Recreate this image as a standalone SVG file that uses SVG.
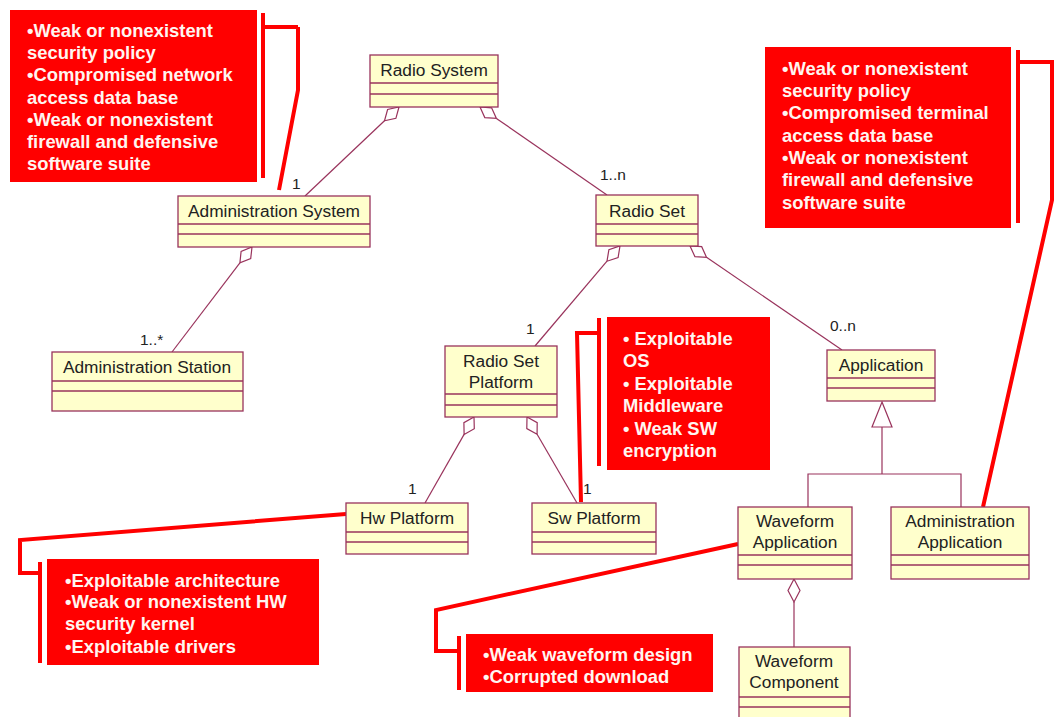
<svg xmlns="http://www.w3.org/2000/svg" width="1060" height="717" viewBox="0 0 1060 717">
<style>
.cls{fill:#ffffcc;stroke:#99335c;stroke-width:1.3}
.div{stroke:#99335c;stroke-width:1.3}
.t{font-family:"Liberation Sans",Arial,sans-serif;font-size:17.3px;fill:#222;text-anchor:middle}
.lbl{font-family:"Liberation Sans",Arial,sans-serif;font-size:15.5px;fill:#222}
.con{fill:none;stroke:#99335c;stroke-width:1.2}
.dia{fill:#fff;stroke:#99335c;stroke-width:1.2}
.note{fill:#ff0000}
.nt{font-family:"Liberation Sans",Arial,sans-serif;font-size:18.4px;font-weight:bold;fill:#fff5f0}
.rl{fill:none;stroke:#ff0000;stroke-width:4}
</style>
<rect width="1060" height="717" fill="#fff"/>

<g id="connectors">
  <line class="con" x1="384.5" y1="120.8" x2="305" y2="196"/>
  <polygon class="dia" points="399,107 395.9,118.3 384.5,120.8 387.6,109.5"/>
  <line class="con" x1="496.4" y1="118.4" x2="607" y2="195"/>
  <polygon class="dia" points="480,107 484.8,117.6 496.4,118.4 491.6,107.8"/>
  <line class="con" x1="239.9" y1="262.9" x2="172" y2="352"/>
  <polygon class="dia" points="252,247 250.7,258.6 239.9,262.9 241.1,251.4"/>
  <line class="con" x1="607" y1="261.2" x2="535" y2="346"/>
  <polygon class="dia" points="620,246 618.1,257.5 607,261.2 608.9,249.7"/>
  <line class="con" x1="706.5" y1="257.3" x2="842" y2="350"/>
  <polygon class="dia" points="690,246 694.9,256.6 706.5,257.3 701.7,246.7"/>
  <line class="con" x1="464.1" y1="434.4" x2="425" y2="503"/>
  <polygon class="dia" points="474,417 474.3,428.7 464.1,434.4 463.9,422.7"/>
  <line class="con" x1="537.1" y1="434.3" x2="577" y2="503"/>
  <polygon class="dia" points="527,417 526.8,428.6 537.1,434.3 537.2,422.6"/>
  <line class="con" x1="794" y1="602" x2="794" y2="647"/>
  <polygon class="dia" points="794,579 800,590.5 794,602 788,590.5"/>
  <polyline class="con" points="882,427 882,474"/>
  <polyline class="con" points="808,507 808,474 961,474 961,507"/>
  <polygon class="dia" points="882,402 892,427 872,427"/>
  <text class="lbl" x="292" y="189">1</text>
  <text class="lbl" x="600" y="180">1..n</text>
  <text class="lbl" x="140" y="345">1..*</text>
  <text class="lbl" x="526" y="334">1</text>
  <text class="lbl" x="830" y="331">0..n</text>
  <text class="lbl" x="408" y="494">1</text>
  <text class="lbl" x="583" y="494">1</text>
  <polyline class="rl" points="298,27 298,90 279,190"/>
  <line class="rl" x1="265" y1="27" x2="298" y2="27"/>
  <polyline class="rl" points="1020,62 1052,62 1052,200 983,507"/>
  <polyline class="rl" points="597,333 577,333 581,502"/>
  <polyline class="rl" points="346,514 20,540 20,573 38,573"/>
  <polyline class="rl" points="738,544 436,610 436,651 457,651"/>
</g>

<g id="radio-system">
  <rect class="cls" x="370" y="55" width="128" height="52"/>
  <line class="div" x1="370" y1="83" x2="498" y2="83"/>
  <line class="div" x1="370" y1="94" x2="498" y2="94"/>
  <text class="t" x="434" y="76">Radio System</text>
</g>
<g id="administration-system">
  <rect class="cls" x="178" y="196" width="192" height="51"/>
  <line class="div" x1="178" y1="224" x2="370" y2="224"/>
  <line class="div" x1="178" y1="234" x2="370" y2="234"/>
  <text class="t" x="274" y="217">Administration System</text>
</g>
<g id="radio-set">
  <rect class="cls" x="596" y="195" width="102" height="51"/>
  <line class="div" x1="596" y1="224" x2="698" y2="224"/>
  <line class="div" x1="596" y1="234" x2="698" y2="234"/>
  <text class="t" x="647" y="217">Radio Set</text>
</g>
<g id="administration-station">
  <rect class="cls" x="52" y="352" width="191" height="59"/>
  <line class="div" x1="52" y1="381" x2="243" y2="381"/>
  <line class="div" x1="52" y1="391" x2="243" y2="391"/>
  <text class="t" x="147" y="373">Administration Station</text>
</g>
<g id="radio-set-platform">
  <rect class="cls" x="445" y="346" width="112" height="71"/>
  <line class="div" x1="445" y1="394" x2="557" y2="394"/>
  <line class="div" x1="445" y1="405" x2="557" y2="405"/>
  <text class="t" x="501" y="367">Radio Set</text>
  <text class="t" x="501" y="388">Platform</text>
</g>
<g id="application">
  <rect class="cls" x="827" y="350" width="108" height="51"/>
  <line class="div" x1="827" y1="378" x2="935" y2="378"/>
  <line class="div" x1="827" y1="388" x2="935" y2="388"/>
  <text class="t" x="881" y="371">Application</text>
</g>
<g id="hw-platform">
  <rect class="cls" x="346" y="503" width="122" height="51"/>
  <line class="div" x1="346" y1="532" x2="468" y2="532"/>
  <line class="div" x1="346" y1="542" x2="468" y2="542"/>
  <text class="t" x="407" y="524">Hw Platform</text>
</g>
<g id="sw-platform">
  <rect class="cls" x="532" y="503" width="124" height="51"/>
  <line class="div" x1="532" y1="532" x2="656" y2="532"/>
  <line class="div" x1="532" y1="542" x2="656" y2="542"/>
  <text class="t" x="594" y="524">Sw Platform</text>
</g>
<g id="waveform-application">
  <rect class="cls" x="738" y="507" width="114" height="72"/>
  <line class="div" x1="738" y1="555" x2="852" y2="555"/>
  <line class="div" x1="738" y1="565" x2="852" y2="565"/>
  <text class="t" x="795" y="527">Waveform</text>
  <text class="t" x="795" y="548">Application</text>
</g>
<g id="administration-application">
  <rect class="cls" x="891" y="507" width="138" height="72"/>
  <line class="div" x1="891" y1="555" x2="1029" y2="555"/>
  <line class="div" x1="891" y1="565" x2="1029" y2="565"/>
  <text class="t" x="960" y="527">Administration</text>
  <text class="t" x="960" y="548">Application</text>
</g>
<g id="waveform-component">
  <rect class="cls" x="739" y="647" width="111" height="75"/>
  <line class="div" x1="739" y1="697" x2="850" y2="697"/>
  <line class="div" x1="739" y1="707" x2="850" y2="707"/>
  <text class="t" x="794" y="667">Waveform</text>
  <text class="t" x="794" y="688">Component</text>
</g>

<g id="note-admin-system">
  <rect class="note" x="10" y="10" width="247" height="172"/>
  <rect class="note" x="261" y="13" width="4" height="165"/>
  <text class="nt" x="27" y="37">•Weak or nonexistent</text>
  <text class="nt" x="27" y="59">security policy</text>
  <text class="nt" x="27" y="81">•Compromised network</text>
  <text class="nt" x="27" y="104">access data base</text>
  <text class="nt" x="27" y="126">•Weak or nonexistent</text>
  <text class="nt" x="27" y="148">firewall and defensive</text>
  <text class="nt" x="27" y="170">software suite</text>
</g>
<g id="note-admin-application">
  <rect class="note" x="765" y="47" width="246" height="181"/>
  <rect class="note" x="1016" y="50" width="4" height="173"/>
  <text class="nt" x="782" y="75">•Weak or nonexistent</text>
  <text class="nt" x="782" y="97">security policy</text>
  <text class="nt" x="782" y="119">•Compromised terminal</text>
  <text class="nt" x="782" y="142">access data base</text>
  <text class="nt" x="782" y="164">•Weak or nonexistent</text>
  <text class="nt" x="782" y="186">firewall and defensive</text>
  <text class="nt" x="782" y="209">software suite</text>
</g>
<g id="note-sw-platform">
  <rect class="note" x="607" y="317" width="163" height="153"/>
  <rect class="note" x="597" y="318" width="4" height="148"/>
  <text class="nt" x="623" y="345">• Exploitable</text>
  <text class="nt" x="623" y="367">OS</text>
  <text class="nt" x="623" y="390">• Exploitable</text>
  <text class="nt" x="623" y="412">Middleware</text>
  <text class="nt" x="623" y="435">• Weak SW</text>
  <text class="nt" x="623" y="457">encryption</text>
</g>
<g id="note-hw-platform">
  <rect class="note" x="47" y="559" width="272" height="106"/>
  <rect class="note" x="38" y="562" width="4" height="101"/>
  <text class="nt" x="65" y="587">•Exploitable architecture</text>
  <text class="nt" x="65" y="608">•Weak or nonexistent HW</text>
  <text class="nt" x="65" y="630">security kernel</text>
  <text class="nt" x="65" y="653">•Exploitable drivers</text>
</g>
<g id="note-waveform">
  <rect class="note" x="466" y="634" width="247" height="58"/>
  <rect class="note" x="457" y="636" width="4" height="54"/>
  <text class="nt" x="483" y="661">•Weak waveform design</text>
  <text class="nt" x="483" y="683">•Corrupted download</text>
</g>
</svg>
